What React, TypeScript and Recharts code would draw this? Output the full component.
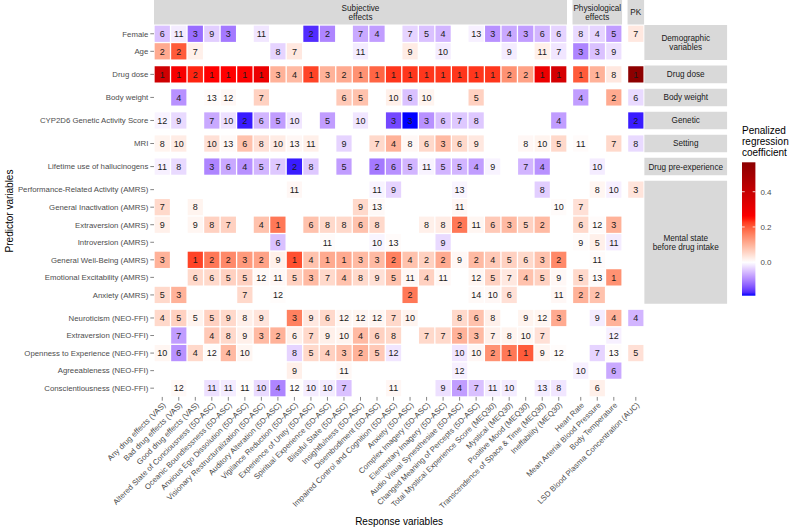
import React from 'react'
import { ScatterChart, Scatter, XAxis, YAxis, ReferenceArea } from 'recharts'

const _ = null

const colLabels = [
  'Any drug effects (VAS)',
  'Bad drug effects (VAS)',
  'Good drug effects (VAS)',
  'Altered State of Conciousness (5D-ASC)',
  'Oceanic Boundlessness (5D-ASC)',
  'Anxious Ego Dissolution (5D-ASC)',
  'Visionary Restructuralization (5D-ASC)',
  'Auditory Alteration (5D-ASC)',
  'Vigilance Reduction (5D-ASC)',
  'Experience of Unity (5D-ASC)',
  'Spiritual Experience (5D-ASC)',
  'Blissful State (5D-ASC)',
  'Insightfulness (5D-ASC)',
  'Disembodiment (5D-ASC)',
  'Impaired Control and Cognition (5D-ASC)',
  'Anxiety (5D-ASC)',
  'Complex Imagery (5D-ASC)',
  'Elementary Imagery (5D-ASC)',
  'Audio Visual Synesthesiae (5D-ASC)',
  'Changed Meaning of Percepts (5D-ASC)',
  'Total Mystical Experience Score (MEQ30)',
  'Mystical (MEQ30)',
  'Positive Mood (MEQ30)',
  'Transcendence of Space & Time (MEQ30)',
  'Ineffability (MEQ30)',
  'Heart Rate',
  'Mean Arterial Blood Pressure',
  'Body Temperature',
  'LSD Blood Plasma Concentration (AUC)',
]

const rowLabels = [
  'Female',
  'Age',
  'Drug dose',
  'Body weight',
  'CYP2D6 Genetic Activity Score',
  'MRI',
  'Lifetime use of hallucinogens',
  'Performance-Related Activity (AMRS)',
  'General Inactivation (AMRS)',
  'Extraversion (AMRS)',
  'Introversion (AMRS)',
  'General Well-Being (AMRS)',
  'Emotional Excitability (AMRS)',
  'Anxiety (AMRS)',
  'Neuroticism (NEO-FFI)',
  'Extraversion (NEO-FFI)',
  'Openness to Experience (NEO-FFI)',
  'Agreeableness (NEO-FFI)',
  'Conscientiousness (NEO-FFI)',
]

const colGroupSizes = [25, 3, 1]
const colGroupNames = [['Subjective', 'effects'], ['Physiological', 'effects'], ['PK']]
const rowGroupSizes = [2, 1, 1, 1, 1, 1, 7, 5]
const rowGroupNames = [
  ['Demographic', 'variables'],
  ['Drug dose'],
  ['Body weight'],
  ['Genetic'],
  ['Setting'],
  ['Drug pre-experience'],
  ['Mental state', 'before drug intake'],
  ['Personality'],
]

// rank of each predictor per response (blank = not selected)
const ranks: (number | null)[][] = [
  [6, 11, 3, 9, 3, _, 11, _, _, 2, 2, _, 7, 4, _, 7, 5, 4, _, 13, 3, 4, 3, 6, 6, 8, 4, 5, 7],
  [2, 2, 7, _, _, _, _, 8, 7, _, _, _, 11, _, _, 9, _, 10, _, _, _, 9, _, 11, 7, 3, 3, 9, _],
  [1, 1, 2, 1, 1, 1, 1, 3, 4, 1, 3, 2, 1, 1, 1, 1, 1, 1, 1, 1, 1, 2, 2, 1, 1, 1, 1, 8, 1],
  [_, 4, _, 13, 12, _, 7, _, _, _, _, 6, 5, _, 10, 6, 10, _, _, 5, _, _, _, _, _, 4, _, 2, 6],
  [12, 9, _, 7, 10, 2, 6, 5, 10, _, 5, _, 10, _, 3, 3, 3, 6, 7, 8, _, _, _, _, 4, _, _, _, 2],
  [8, 10, _, 10, 13, 6, 8, 10, 13, 11, _, 9, _, 7, 4, 8, 6, 3, 6, 9, _, _, 8, 10, 5, 11, _, 7, 8],
  [11, 8, _, 3, 6, 4, 5, 7, 2, 8, _, 5, _, 2, 6, 5, 11, 5, 5, 4, 9, _, 7, 4, _, _, 10, _, _],
  [_, _, _, _, _, _, _, _, 11, _, _, _, _, 11, 9, _, _, _, 13, _, _, _, _, 8, _, _, 8, 10, 3],
  [7, _, 8, _, _, _, _, _, _, _, _, _, 9, 13, _, _, _, _, 11, _, _, _, _, _, 10, 7, _, _, _],
  [9, _, 9, 8, 7, _, 4, 1, _, 6, 8, 8, 6, 8, _, _, 8, 8, 2, 11, 6, 3, 5, 2, _, 6, 12, 3, _],
  [_, _, _, _, _, _, _, 6, _, _, 11, _, _, 10, 13, _, _, 9, _, _, _, _, _, _, _, 9, 5, 11, _],
  [3, _, 1, 2, 2, 3, 2, 9, 1, 4, 1, 1, 3, 3, 2, 4, 2, 2, 9, 2, 4, 5, 6, 3, 2, _, 11, _, _],
  [_, _, 6, 6, 5, 5, 12, 11, 5, 3, 7, 4, 8, 9, 5, 11, 4, 11, _, 12, 5, 7, 4, 5, 9, 5, 13, 1, _],
  [5, 3, _, _, _, 7, _, 12, _, _, _, _, _, _, _, 2, _, _, _, 14, 10, 6, _, _, 11, 2, 2, _, _],
  [4, 5, 5, 5, 9, 8, 9, _, 3, 9, 6, 12, 12, 12, 7, 10, _, _, 8, 6, 8, _, 9, 12, 3, _, 9, 4, 4],
  [_, 7, _, 4, 8, 9, 3, 2, 6, 7, 9, 10, 4, 6, 8, _, 7, 7, 3, 3, 7, 8, 10, 7, _, _, _, 12, _],
  [10, 6, 4, 12, 4, 10, _, _, 8, 5, 4, 3, 2, 5, 12, _, _, _, 10, 10, 2, 1, 1, 9, 12, _, 7, 13, 5],
  [_, _, _, _, _, _, _, _, 9, _, _, 11, _, _, _, _, _, _, 12, _, _, _, _, _, _, 10, _, 6, _],
  [_, 12, _, 11, 11, 11, 10, 4, 12, 10, 10, 7, _, _, 11, _, _, 9, 4, 7, 11, 10, _, 13, 8, _, 6, _, _],
]

// penalized regression coefficients
const coefs: number[][] = [
  [-0.05, -0.015, -0.12, -0.04, -0.11, 0, -0.02, 0, 0, -0.17, -0.1, 0, -0.07, -0.08, 0, -0.035, -0.05, -0.06, 0, -0.012, -0.09, -0.07, -0.08, -0.06, -0.035, -0.03, -0.035, -0.08, 0.03],
  [0.11, 0.2, 0.02, 0, 0, 0, 0, -0.035, 0.03, 0, 0, 0, -0.015, 0, 0, 0.025, 0, -0.015, 0, 0, 0, -0.015, 0, 0.02, -0.02, -0.1, -0.05, -0.025, 0],
  [0.38, 0.27, 0.24, 0.25, 0.25, 0.26, 0.3, 0.1, 0.09, 0.22, 0.1, 0.11, 0.14, 0.19, 0.23, 0.23, 0.23, 0.23, 0.23, 0.23, 0.23, 0.14, 0.12, 0.3, 0.36, 0.2, 0.1, 0.03, 0.56],
  [0, -0.09, 0, 0.005, 0.01, 0, 0.06, 0, 0, 0, 0, 0.07, 0.08, 0, 0.02, -0.05, 0.015, 0, 0, 0.06, 0, 0, 0, 0, 0, -0.08, 0, 0.11, -0.03],
  [-0.01, -0.03, 0, -0.07, -0.025, -0.18, -0.06, -0.08, -0.02, 0, -0.08, 0, -0.02, 0, -0.15, -0.19, -0.09, -0.05, -0.045, -0.045, 0, 0, 0, 0, -0.08, 0, 0, 0, -0.18],
  [0.015, 0.025, 0, 0.04, 0.008, 0.08, 0.04, 0.025, 0.01, 0.02, 0, -0.035, 0, 0.05, 0.1, 0.01, 0.05, 0.09, 0.05, 0.03, 0, 0, 0.01, 0.015, 0.05, 0.005, 0, 0.05, -0.03],
  [-0.012, -0.03, 0, -0.1, -0.07, -0.09, -0.06, -0.045, -0.18, -0.045, 0, -0.08, 0, -0.11, -0.09, -0.06, -0.01, -0.06, -0.06, -0.08, -0.01, 0, -0.06, -0.09, 0, 0, -0.015, 0, 0],
  [0, 0, 0, 0, 0, 0, 0, 0, 0.01, 0, 0, 0, 0, -0.01, -0.035, 0, 0, 0, -0.008, 0, 0, 0, 0, -0.04, 0, 0, 0.012, -0.012, 0.035],
  [0.05, 0, 0.015, 0, 0, 0, 0, 0, 0, 0, 0, 0, 0.05, 0.008, 0, 0, 0, 0, 0.01, 0, 0, 0, 0, 0, 0.005, 0.04, 0, 0, 0],
  [0.02, 0, 0.012, 0.06, 0.06, 0, 0.08, 0.17, 0, 0.08, 0.05, 0.05, 0.08, 0.05, 0, 0, 0.02, 0.025, 0.17, 0.012, 0.07, 0.09, 0.06, 0.09, 0, 0.05, 0.005, 0.1, 0],
  [0, 0, 0, 0, 0, 0, 0, -0.05, 0, 0, 0.005, 0, 0, -0.008, 0.005, 0, 0, -0.03, 0, 0, 0, 0, 0, 0, 0, 0.005, 0.02, -0.015, 0],
  [0.1, 0, 0.22, 0.17, 0.15, 0.13, 0.12, 0.02, 0.21, 0.08, 0.11, 0.11, 0.09, 0.09, 0.16, 0.08, 0.06, 0.11, 0.01, 0.09, 0.07, 0.06, 0.05, 0.08, 0.15, 0, 0.005, 0, 0],
  [0, 0, 0.05, 0.05, 0.06, 0.06, 0.008, 0.01, 0.06, 0.09, 0.05, 0.08, 0.05, 0.04, 0.08, 0.01, 0.06, 0.01, 0, 0.012, 0.06, 0.03, 0.08, 0.06, 0.01, 0.05, 0.005, 0.14, 0],
  [0.05, 0.1, 0, 0, 0, 0.05, 0, 0.004, 0, 0, 0, 0, 0, 0, 0, 0.17, 0, 0, 0, 0.008, 0.01, 0.04, 0, 0, 0.01, 0.1, 0.08, 0, 0],
  [0.05, 0.06, 0.015, 0.06, 0.05, 0.02, 0.035, 0, 0.16, 0.03, 0.05, 0.012, 0.012, 0.012, 0.05, 0.015, 0, 0, 0.05, 0.08, 0.02, 0, 0.015, 0.012, 0.11, 0, -0.015, 0.1, -0.06],
  [0, -0.08, 0, 0.07, 0.05, 0.02, 0.09, 0.1, 0.02, 0.05, 0.02, 0.015, 0.09, 0.06, 0.05, 0, 0.05, 0.05, 0.1, 0.09, 0.02, 0.015, 0.012, 0.04, 0, 0, 0, -0.012, 0],
  [0.012, -0.09, 0.05, 0.004, 0.09, 0.012, 0, 0, -0.035, 0.05, 0.06, 0.08, 0.1, 0.07, -0.02, 0, 0, 0, -0.02, 0.01, 0.14, 0.17, 0.2, 0.012, 0.004, 0, -0.035, 0.004, 0.04],
  [0, 0, 0, 0, 0, 0, 0, 0, 0.02, 0, 0, 0.01, 0, 0, 0, 0, 0, 0, -0.012, 0, 0, 0, 0, 0, 0, -0.012, 0, -0.07, 0],
  [0, 0.008, 0, -0.025, -0.015, 0.003, -0.03, -0.1, 0.003, -0.015, -0.015, -0.05, 0, 0, 0.01, 0, 0, -0.025, -0.08, -0.05, -0.015, -0.015, 0, -0.015, -0.02, 0, 0.02, 0, 0],
]

const legendTicks = [0, 0.2, 0.4]
const COEF_MIN = -0.19
const COEF_MAX = 0.567

// colour scale (ggplot style, interpolated in Lab)
const colorStops = [
  { v: COEF_MIN, c: '#0000FF' },
  { v: 0, c: '#FFFFFF' },
  { v: 0.25, c: '#FF0000' },
  { v: COEF_MAX, c: '#8B0000' },
]

function toLin(c: number) {
  c /= 255
  return c <= 0.04045 ? c / 12.92 : Math.pow((c + 0.055) / 1.055, 2.4)
}
function fromLin(c: number) {
  const v = c <= 0.0031308 ? 12.92 * c : 1.055 * Math.pow(c, 1 / 2.4) - 0.055
  return Math.round(Math.min(1, Math.max(0, v)) * 255)
}
function hexToLab(hex: string) {
  const r = toLin(parseInt(hex.slice(1, 3), 16))
  const g = toLin(parseInt(hex.slice(3, 5), 16))
  const b = toLin(parseInt(hex.slice(5, 7), 16))
  const X = (0.4124 * r + 0.3576 * g + 0.1805 * b) / 0.95047
  const Y = 0.2126 * r + 0.7152 * g + 0.0722 * b
  const Z = (0.0193 * r + 0.1192 * g + 0.9505 * b) / 1.08883
  const f = (t: number) => (t > 0.008856 ? Math.cbrt(t) : 7.787 * t + 16 / 116)
  return [116 * f(Y) - 16, 500 * (f(X) - f(Y)), 200 * (f(Y) - f(Z))]
}
function labToHex([L, a, b]: number[]) {
  const fy = (L + 16) / 116
  const fx = fy + a / 500
  const fz = fy - b / 200
  const inv = (t: number) => (t * t * t > 0.008856 ? t * t * t : (t - 16 / 116) / 7.787)
  const X = 0.95047 * inv(fx)
  const Y = inv(fy)
  const Z = 1.08883 * inv(fz)
  const r = 3.2406 * X - 1.5372 * Y - 0.4986 * Z
  const g = -0.9689 * X + 1.8758 * Y + 0.0415 * Z
  const bb = 0.0557 * X - 0.204 * Y + 1.057 * Z
  return '#' + [r, g, bb].map((c) => fromLin(c).toString(16).padStart(2, '0')).join('')
}
const stopLabs = colorStops.map((s) => hexToLab(s.c))

function fillFor(v: number) {
  const x = Math.min(COEF_MAX, Math.max(COEF_MIN, v))
  let i = 0
  while (i < colorStops.length - 2 && x > colorStops[i + 1].v) i++
  const t = (x - colorStops[i].v) / (colorStops[i + 1].v - colorStops[i].v)
  const a = stopLabs[i]
  const b = stopLabs[i + 1]
  return labToHex([0, 1, 2].map((k) => a[k] + (b[k] - a[k]) * t))
}

// layout in px
const CW = 16.52
const RH = 17.55
const GAP = 5.5
const TOP = 25
const RSTRIP = 83
const LEFT = 154
const PANEL_W = colLabels.length * CW + (colGroupSizes.length - 1) * GAP
const TOTAL_W = PANEL_W + RSTRIP
const TOTAL_H = TOP + rowLabels.length * RH + (rowGroupSizes.length - 1) * GAP

function groupOf(sizes: number[], i: number) {
  let acc = 0
  for (let g = 0; g < sizes.length; g++) {
    acc += sizes[g]
    if (i < acc) return g
  }
  return sizes.length - 1
}
const colX = (i: number) => i * CW + groupOf(colGroupSizes, i) * GAP + CW / 2
const rowY = (r: number) => TOP + r * RH + groupOf(rowGroupSizes, r) * GAP + RH / 2

const colTicks = colLabels.map((_l, i) => colX(i))
const rowTicks = rowLabels.map((_l, i) => rowY(i))

const cells = ranks.flatMap((row, r) =>
  row.flatMap((rank, c) => (rank == null ? [] : [{ x: colX(c), y: rowY(r), rank, coef: coefs[r][c] }]))
)

const FONT = '"Liberation Sans", Arial, Helvetica, sans-serif'

function Cell(props: any) {
  const { cx, cy, payload } = props
  return (
    <g>
      <rect
        x={cx - CW / 2 + 0.65}
        y={cy - RH / 2 + 0.65}
        width={CW - 1.3}
        height={RH - 1.3}
        fill={fillFor(payload.coef)}
      />
      <text x={cx} y={cy} dy="0.36em" textAnchor="middle" fontSize={9} fill="#1a1a1a" fontFamily={FONT}>
        {payload.rank}
      </text>
    </g>
  )
}

function nearest(ticks: number[], v: number) {
  return ticks.findIndex((t) => Math.abs(t - v) < 0.01)
}

function XTick(props: any) {
  const { x, y, payload } = props
  const i = nearest(colTicks, payload.value)
  return (
    <g transform={`translate(${x},${y})`}>
      <text transform="rotate(-45)" textAnchor="end" dy="0.71em" fontSize={7.8} fill="#4D4D4D" fontFamily={FONT}>
        {colLabels[i]}
      </text>
    </g>
  )
}

function YTick(props: any) {
  const { x, y, payload } = props
  const i = nearest(rowTicks, payload.value)
  return (
    <text x={x} y={y} dy="0.36em" textAnchor="end" fontSize={7.8} fill="#4D4D4D" fontFamily={FONT}>
      {rowLabels[i]}
    </text>
  )
}

function stripLabel(lines: string[]) {
  return (props: any) => {
    const vb = props.viewBox
    const cx = vb.x + vb.width / 2
    const cy = vb.y + vb.height / 2
    return (
      <text textAnchor="middle" fontSize={8.2} fill="#1A1A1A" fontFamily={FONT}>
        {lines.map((l, k) => (
          <tspan key={k} x={cx} y={cy + (k - (lines.length - 1) / 2) * 9} dy="0.36em">
            {l}
          </tspan>
        ))}
      </text>
    )
  }
}

function ColorLegend() {
  const barX = 742
  const barTop = 162.3
  const barH = 133.4
  const barW = 13.4
  const yOf = (v: number) => barTop + ((COEF_MAX - v) / (COEF_MAX - COEF_MIN)) * barH
  const stops = Array.from({ length: 41 }, (_s, k) => COEF_MAX - (k / 40) * (COEF_MAX - COEF_MIN))
  return (
    <svg width={790} height={528} style={{ position: 'absolute', left: 0, top: 0, pointerEvents: 'none' }}>
      <defs>
        <linearGradient id="coefbar" x1="0" y1="0" x2="0" y2="1">
          {stops.map((v, k) => (
            <stop key={k} offset={k / 40} stopColor={fillFor(v)} />
          ))}
        </linearGradient>
      </defs>
      <text fontSize={10} fill="#000" fontFamily={FONT}>
        {['Penalized', 'regression', 'coefficient'].map((l, k) => (
          <tspan key={k} x={barX} y={130 + k * 11.3} dy="0.36em">
            {l}
          </tspan>
        ))}
      </text>
      <rect x={barX} y={barTop} width={barW} height={barH} fill="url(#coefbar)" />
      {legendTicks.map((v) => (
        <g key={v}>
          <line x1={barX} x2={barX + 2.7} y1={yOf(v)} y2={yOf(v)} stroke="#fff" strokeWidth={0.8} />
          <line x1={barX + barW - 2.7} x2={barX + barW} y1={yOf(v)} y2={yOf(v)} stroke="#fff" strokeWidth={0.8} />
          <text x={barX + barW + 5} y={yOf(v)} dy="0.36em" fontSize={8} fill="#4D4D4D" fontFamily={FONT}>
            {v.toFixed(1)}
          </text>
        </g>
      ))}
    </svg>
  )
}

export default function App() {
  let c0 = 0
  const topStrips = colGroupSizes.map((n, g) => {
    const x1 = c0 * CW + g * GAP
    c0 += n
    return { x1, x2: x1 + n * CW, lines: colGroupNames[g] }
  })
  let r0 = 0
  const sideStrips = rowGroupSizes.map((n, g) => {
    const y1 = TOP + r0 * RH + g * GAP
    r0 += n
    return { y1, y2: y1 + n * RH, lines: rowGroupNames[g] }
  })

  return (
    <div style={{ position: 'absolute', left: 0, top: 0, width: 790, height: 528, background: '#fff' }}>
      <ScatterChart width={790} height={528} margin={{ top: 0, right: 790 - LEFT - TOTAL_W, bottom: 0, left: 0 }}>
        <XAxis
          dataKey="x"
          type="number"
          domain={[0, TOTAL_W]}
          ticks={colTicks}
          interval={0}
          height={528 - TOTAL_H}
          axisLine={false}
          tickLine={{ stroke: '#333', strokeWidth: 0.6 }}
          tickSize={3.7}
          tickMargin={1}
          tick={<XTick />}
          label={(p: any) => (
            <text
              x={LEFT + PANEL_W / 2}
              y={p.viewBox.y + p.viewBox.height - 3}
              textAnchor="middle"
              fontSize={10}
              fill="#000"
              fontFamily={FONT}
            >
              Response variables
            </text>
          )}
        />
        <YAxis
          dataKey="y"
          type="number"
          domain={[0, TOTAL_H]}
          reversed
          ticks={rowTicks}
          interval={0}
          width={LEFT}
          axisLine={false}
          tickLine={{ stroke: '#333', strokeWidth: 0.6 }}
          tickSize={3.7}
          tickMargin={2}
          tick={<YTick />}
          label={() => (
            <text
              transform={`translate(9, ${(TOP + TOTAL_H) / 2}) rotate(-90)`}
              textAnchor="middle"
              dy="0.36em"
              fontSize={10}
              fill="#000"
              fontFamily={FONT}
            >
              Predictor variables
            </text>
          )}
        />
        {topStrips.map((s, k) => (
          <ReferenceArea
            key={'t' + k}
            x1={s.x1}
            x2={s.x2}
            y1={0}
            y2={TOP - 0.5}
            fill="#D9D9D9"
            fillOpacity={1}
            stroke="none"
            label={stripLabel(s.lines)}
          />
        ))}
        {sideStrips.map((s, k) => (
          <ReferenceArea
            key={'s' + k}
            x1={PANEL_W + 0.3}
            x2={TOTAL_W}
            y1={s.y1}
            y2={s.y2}
            fill="#D9D9D9"
            fillOpacity={1}
            stroke="none"
            label={stripLabel(s.lines)}
          />
        ))}
        <Scatter data={cells} shape={Cell} isAnimationActive={false} />
      </ScatterChart>
      <ColorLegend />
    </div>
  )
}
